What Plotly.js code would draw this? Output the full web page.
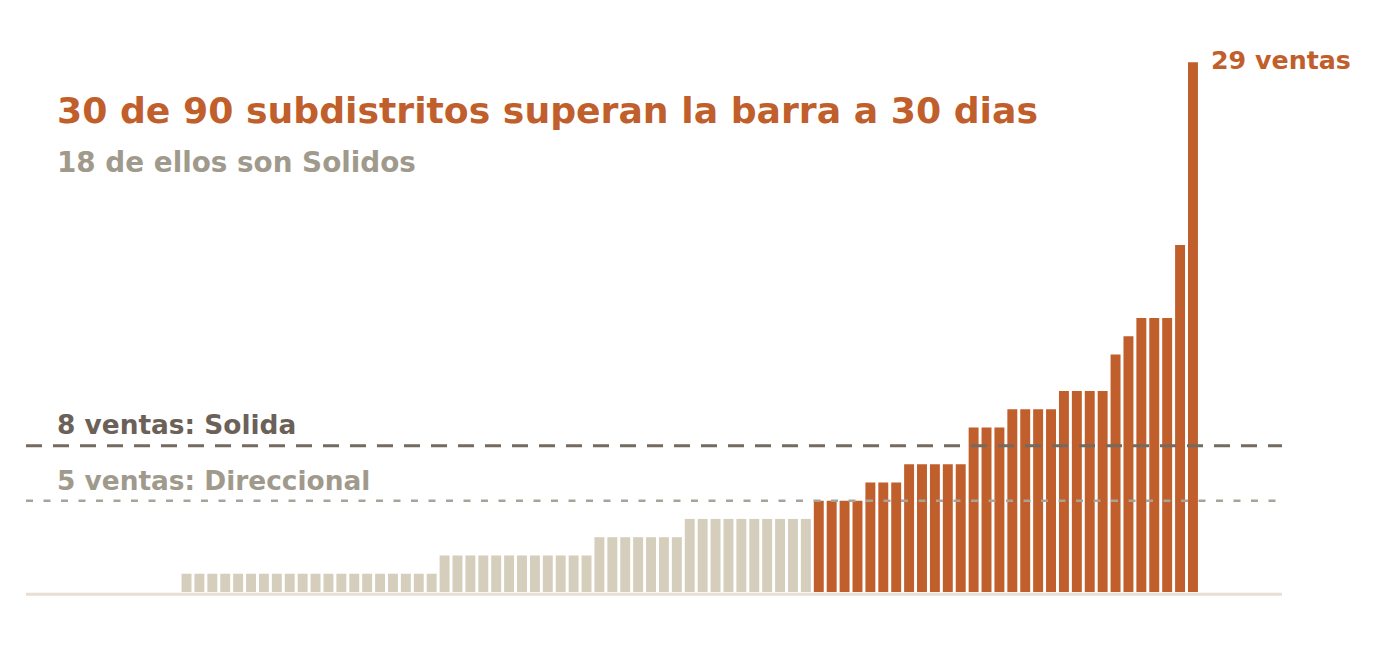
<!DOCTYPE html>
<html>
<head>
<meta charset="utf-8">
<script src="https://cdn.plot.ly/plotly-3.0.1.min.js"></script>
<style>
  html, body { margin: 0; padding: 0; background: #fff; }
  #chart { width: 1376px; height: 664px; }
</style>
</head>
<body>
<div id="chart"></div>
<script>
// ventas a 30 dias por subdistrito, ordenadas de menor a mayor
const counts = [
  0, 0, 0, 0, 0, 0, 0, 0, 0, 0, 0,
  1, 1, 1, 1, 1, 1, 1, 1, 1, 1, 1, 1, 1, 1, 1, 1, 1, 1, 1, 1,
  2, 2, 2, 2, 2, 2, 2, 2, 2, 2, 2, 2,
  3, 3, 3, 3, 3, 3, 3,
  4, 4, 4, 4, 4, 4, 4, 4, 4, 4,
  5, 5, 5, 5,
  6, 6, 6,
  7, 7, 7, 7, 7,
  9, 9, 9,
  10, 10, 10, 10,
  11, 11, 11, 11,
  13, 14,
  15, 15, 15,
  19, 29
];
const subdistricts = counts.map((_, i) => i);

const solidBar = 8;
const directionalBar = 5;

const orange = "#c05e2c";
const sand = "#d5cebd";
const font = "DejaVu Sans, sans-serif";

const barColors = counts.map(v => v >= directionalBar ? orange : sand);

const trace = {
  x: subdistricts,
  y: counts,
  type: "bar",
  marker: { color: barColors },
  hoverinfo: "skip"
};

const maxCount = counts[counts.length - 1];

const layout = {
  width: 1376,
  height: 664,
  margin: { l: 26, r: 94, t: 44, b: 72 },
  paper_bgcolor: "#fff",
  plot_bgcolor: "#fff",
  bargap: 0.23,
  showlegend: false,
  font: { family: font },
  xaxis: {
    range: [-1.44, 95.9],
    showgrid: false, zeroline: false, showticklabels: false, ticks: "",
    fixedrange: true
  },
  yaxis: {
    range: [0, 30],
    showgrid: false, zeroline: false, showticklabels: false, ticks: "",
    fixedrange: true
  },
  shapes: [
    {
      // linea base, justo debajo de las barras
      type: "line", xref: "paper", x0: 0, x1: 1, yref: "paper", y0: -0.004, y1: -0.004,
      line: { color: "#e7dfd5", width: 3 }
    },
    {
      type: "line", xref: "paper", x0: 0, x1: 1, y0: solidBar, y1: solidBar,
      line: { color: "#736a60", width: 3, dash: "16px,11px" }
    },
    {
      type: "line", xref: "paper", x0: 0, x1: 1, y0: directionalBar, y1: directionalBar,
      line: { color: "#aaa298", width: 2.5, dash: "7px,10.5px" }
    }
  ],
  annotations: [
    {
      text: "<b>30 de 90 subdistritos superan la barra a 30 dias</b>",
      xref: "paper", x: 0.0247, xanchor: "left", xshift: -2,
      yref: "y", y: 26.35, yanchor: "middle",
      showarrow: false, font: { size: 36.2, color: orange, family: font }
    },
    {
      text: "<b>18 de ellos son Solidos</b>",
      xref: "paper", x: 0.0247, xanchor: "left", xshift: -2,
      yref: "y", y: 23.5, yanchor: "middle",
      showarrow: false, font: { size: 27.8, color: "#a09a8c", family: font }
    },
    {
      text: "<b>8 ventas: Solida</b>",
      xref: "paper", x: 0.0247, xanchor: "left", xshift: -2,
      yref: "y", y: 9.15, yanchor: "middle",
      showarrow: false, font: { size: 26.4, color: "#6b6158", family: font }
    },
    {
      text: "<b>5 ventas: Direccional</b>",
      xref: "paper", x: 0.0247, xanchor: "left", xshift: -2,
      yref: "y", y: 6.1, yanchor: "middle",
      showarrow: false, font: { size: 26.4, color: "#a09a8c", family: font }
    },
    {
      text: "<b>" + maxCount + " ventas</b>",
      xref: "x", x: counts.length - 1, xanchor: "left", xshift: 16,
      yref: "y", y: maxCount, yanchor: "middle", yshift: 2,
      showarrow: false, font: { size: 25.3, color: orange, family: font }
    }
  ]
};

Plotly.newPlot("chart", [trace], layout, { displayModeBar: false, staticPlot: true });
</script>
</body>
</html>
